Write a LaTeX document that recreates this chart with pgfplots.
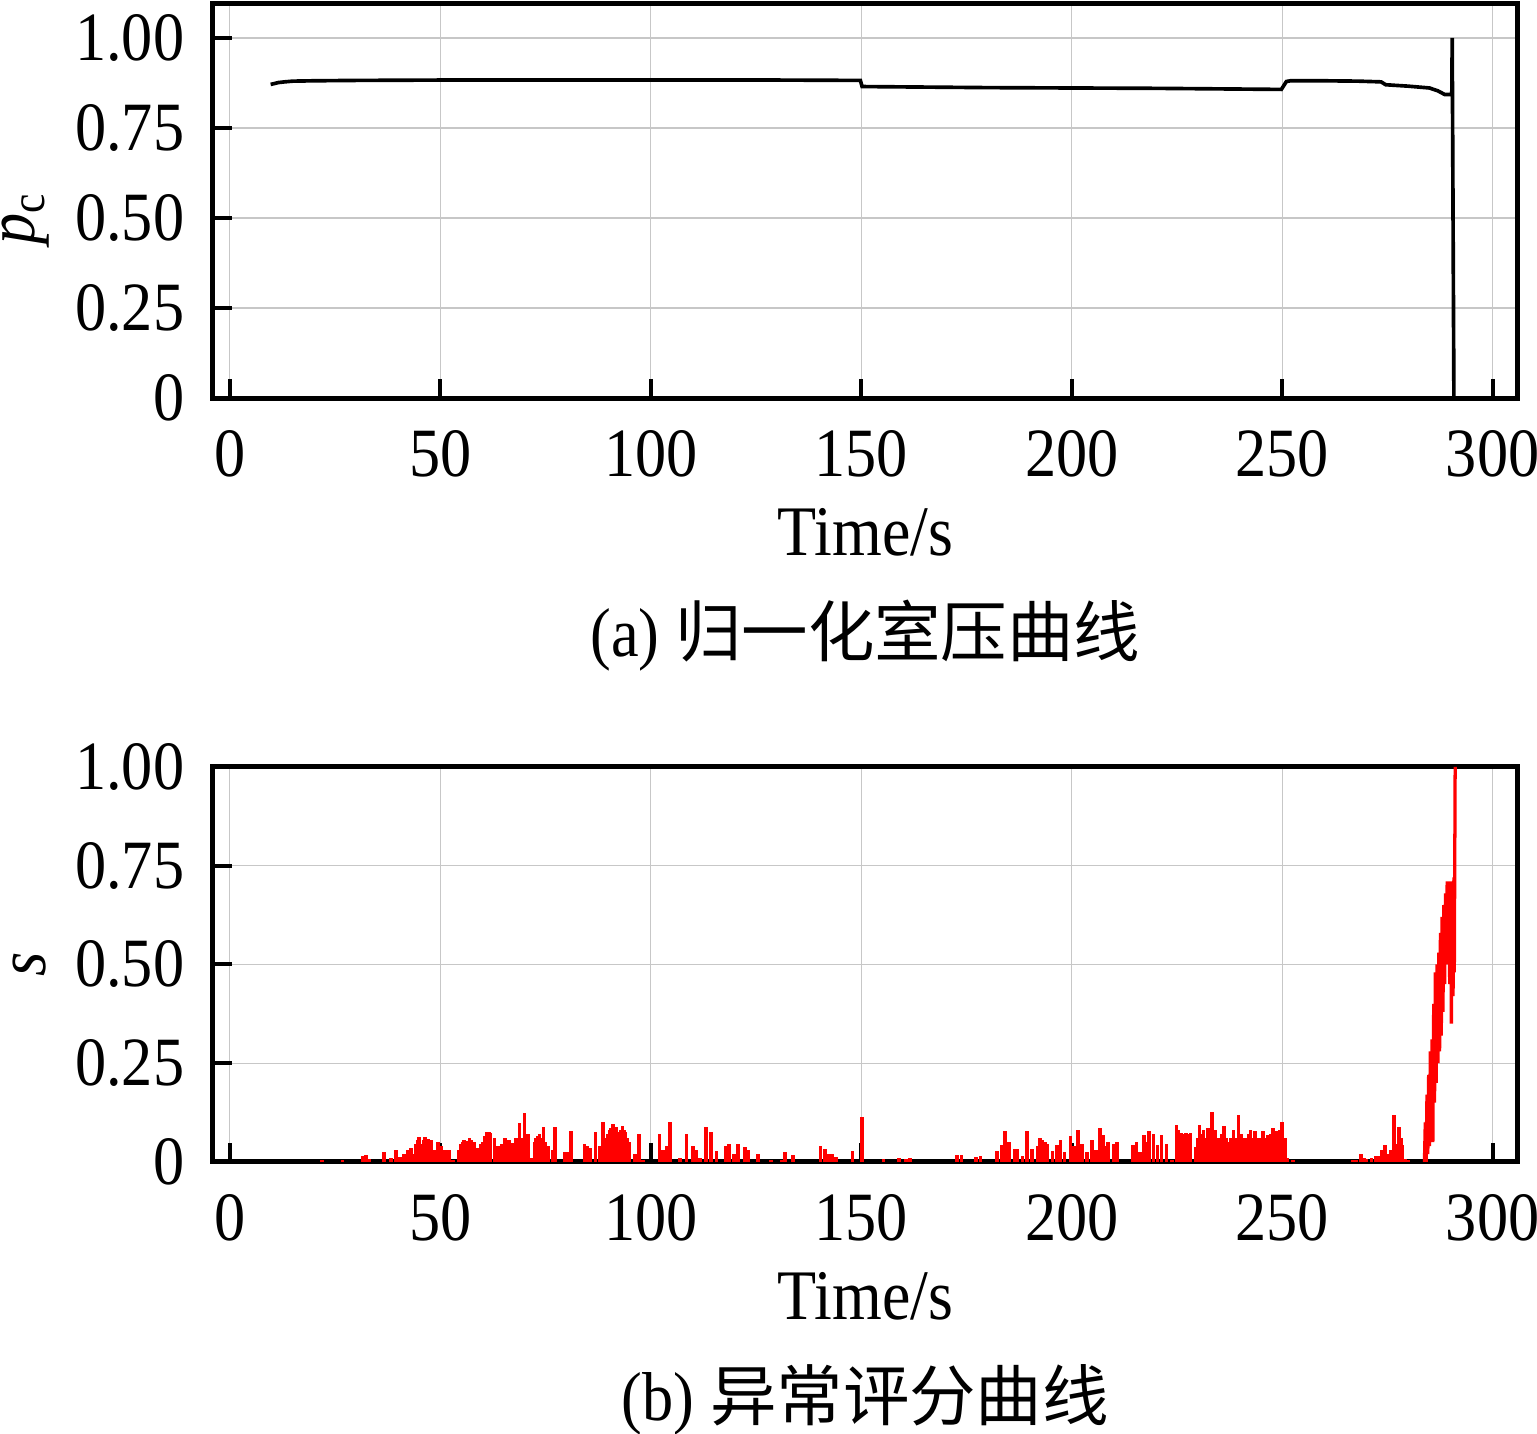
\documentclass[border=0pt]{standalone}
\usepackage{fontspec}
\setmainfont{Liberation Serif}[FakeStretch=0.9]
\newfontfamily\cjk{Noto Sans CJK SC}
\usepackage{pgfplots}
\pgfplotsset{compat=1.18}
\pgfplotsset{myax/.style={
  scale only axis, width=339.6pt, height=102.8pt,
  xmin=-4, xmax=306,
  xtick={0,50,100,150,200,250,300}, xticklabels={0,50,100,150,200,250,300},
  ytick={0,0.25,0.5,0.75,1}, yticklabels={0,0.25,0.50,0.75,1.00},
  xtick pos=bottom, ytick pos=left, tick align=inside,
  major tick length=5pt,
  tick style={black, line width=1.05pt},
  axis line style={line width=1.3pt},
  grid=major,
  major grid style={line width=0.3pt, color=black!22},
  tick label style={font=\fontsize{18}{20}\selectfont},
  xticklabel style={yshift=-2.3pt},
  yticklabel style={xshift=-1.3pt},
}}
\begin{document}
\fontsize{18}{21}\selectfont
\begin{tikzpicture}
\begin{axis}[myax, name=top, ymin=0, ymax=1.097]
\addplot[black, line width=0.95pt] coordinates {
(9.7,0.871) (10.5,0.873) (11.5,0.876) (13,0.878) (15,0.880) (20,0.881) (30,0.882) (50,0.883)
(80,0.883) (100,0.883) (130,0.883) (149.8,0.882) (150.2,0.865) (160,0.864) (180,0.862)
(200,0.861) (220,0.860) (240,0.858) (249.8,0.857) (250.3,0.866) (251,0.879) (252,0.881)
(260,0.881) (268,0.880) (273.5,0.878) (274.6,0.870) (280,0.866) (285,0.861) (287,0.853)
(288.6,0.843) (290.3,0.843) (290.4,1.0) (290.8,0)
};
\coordinate (ylt) at (axis cs:-4,0.5);
\end{axis}
\begin{axis}[myax, name=bot, at={(0pt,-198.8pt)}, ymin=0, ymax=1]
\addplot[red, ycomb, line width=0.95pt] coordinates {
(21.9,0.006) (26.8,0.006) (31.5,0.016) (32.3,0.018) (33.1,0.008) (36.7,0.024) (38.3,0.010)
(39.5,0.029) (40.5,0.012) (41.4,0.020) (42.2,0.030) (43.0,0.035) (43.6,0.020) (44.2,0.045)
(44.6,0.055) (45.0,0.062) (45.6,0.045) (46.0,0.055) (46.4,0.063) (46.8,0.050) (47.2,0.058)
(47.8,0.055) (48.6,0.030) (49.4,0.050) (50.3,0.040) (51.0,0.030) (51.6,0.030) (52.2,0.030)
(53.0,0.005) (54.3,0.030) (54.8,0.045) (55.3,0.050) (55.7,0.056) (56.2,0.052) (56.9,0.060)
(57.4,0.055) (58.1,0.050) (58.9,0.035) (59.6,0.045) (60.1,0.050) (60.6,0.065) (61.1,0.075)
(61.5,0.075) (61.9,0.072) (62.9,0.060) (63.7,0.040) (64.7,0.045) (65.4,0.060) (66.0,0.050)
(66.4,0.055) (67.2,0.048) (68.0,0.060) (68.8,0.098) (69.5,0.060) (70.0,0.123) (70.8,0.070)
(71.6,0.010) (72.4,0.050) (72.8,0.060) (73.2,0.065) (73.6,0.070) (74.1,0.060) (74.5,0.089)
(75.0,0.050) (75.6,0.040) (76.8,0.030) (77.3,0.088) (79.5,0.026) (80.2,0.026) (81.1,0.077)
(84.3,0.045) (84.9,0.040) (85.7,0.035) (86.9,0.075) (87.9,0.040) (88.7,0.100) (89.4,0.060)
(89.9,0.070) (90.3,0.080) (90.6,0.085) (91.0,0.096) (91.4,0.080) (91.8,0.088) (92.2,0.075)
(92.6,0.068) (93.0,0.080) (93.3,0.090) (93.7,0.080) (94.0,0.075) (94.4,0.060) (94.8,0.050)
(96.2,0.020) (97.2,0.070) (98.2,0.004) (102.1,0.070) (102.9,0.030) (103.7,0.040) (104.5,0.100)
(106.9,0.010) (108.5,0.070) (110.1,0.040) (110.9,0.030) (111.7,0.010) (113.1,0.089) (114.3,0.075)
(115.6,0.028) (117.8,0.040) (118.6,0.045) (119.8,0.020) (120.8,0.045) (122.4,0.038) (123.2,0.030)
(125.5,0.020) (128.6,0.005) (131.1,0.006) (131.9,0.024) (133.8,0.018) (140.3,0.040) (141.4,0.033)
(142.2,0.020) (143.0,0.020) (144.0,0.012) (147.9,0.028) (150.2,0.113) (155.3,0.007) (158.9,0.010)
(160.7,0.008) (161.6,0.010) (172.7,0.018) (173.8,0.018) (177.2,0.013) (178.3,0.015) (182.2,0.028)
(183.4,0.042) (184.1,0.077) (185.1,0.050) (186.5,0.033) (187.0,0.033) (188.3,0.015) (189.4,0.077)
(190.5,0.033) (192.0,0.040) (192.5,0.060) (193.1,0.055) (193.7,0.050) (194.1,0.046) (195.4,0.028)
(196.5,0.042) (197.3,0.055) (198.3,0.024) (199.7,0.066) (200.5,0.040) (201.5,0.082) (202.5,0.046)
(203.7,0.024) (204.8,0.055) (205.7,0.030) (206.7,0.086) (207.5,0.068) (208.1,0.040) (208.7,0.050)
(210.0,0.046) (210.8,0.050) (214.6,0.042) (215.4,0.050) (216.3,0.026) (217.1,0.068) (217.8,0.050)
(218.4,0.079) (219.4,0.070) (220.4,0.042) (221.3,0.068) (222.5,0.046) (223.8,0.006) (224.9,0.093)
(225.4,0.080) (225.9,0.074) (226.5,0.070) (227.1,0.074) (227.6,0.070) (228.2,0.072) (229.4,0.038)
(230.0,0.060) (230.4,0.094) (230.9,0.070) (231.3,0.082) (231.8,0.060) (232.4,0.086) (232.9,0.070)
(233.4,0.126) (233.8,0.080) (234.2,0.082) (234.7,0.060) (235.1,0.050) (235.7,0.070) (236.2,0.091)
(236.7,0.060) (237.1,0.050) (237.8,0.060) (238.4,0.082) (239.0,0.060) (239.6,0.120) (240.2,0.070)
(240.7,0.050) (241.2,0.060) (241.7,0.060) (242.1,0.070) (242.5,0.082) (243.0,0.060) (243.5,0.077)
(244.1,0.060) (244.6,0.055) (245.0,0.060) (245.5,0.077) (246.1,0.060) (246.7,0.068) (247.2,0.070)
(247.8,0.086) (248.3,0.070) (248.8,0.077) (249.4,0.080) (250.0,0.100) (250.6,0.060) (251.3,0.010)
(252.6,0.004) (266.8,0.004) (267.5,0.006) (268.8,0.020) (269.4,0.010) (270.0,0.008) (271.2,0.010)
(272.2,0.014) (272.8,0.016) (273.6,0.030) (274.4,0.043) (275.2,0.020) (275.8,0.030) (276.5,0.119)
(277.2,0.045) (277.8,0.089) (278.2,0.060) (278.6,0.043) (279.2,0.008) (280.0,0.004)
};
\addplot[red, line width=0.85pt] coordinates {
(283.5,0) (283.8,0) (284.0,0.10) (284.2,0.0) (284.4,0.17) (284.6,0.02) (284.8,0.22) (285.0,0.04)
(285.2,0.28) (285.4,0.08) (285.6,0.31) (285.8,0.05) (286.0,0.40) (286.2,0.15) (286.4,0.48)
(286.6,0.20) (286.8,0.50) (287.0,0.25) (287.2,0.53) (287.4,0.28) (287.6,0.58) (287.8,0.32)
(288.0,0.62) (288.2,0.38) (288.4,0.65) (288.6,0.45) (288.8,0.68) (289.0,0.50) (289.2,0.71)
(289.4,0.55) (289.6,0.70) (289.8,0.45) (290.0,0.71) (290.2,0.35) (290.4,0.70) (290.6,0.42)
(290.8,0.72) (290.9,0.48) (291.0,0.75) (291.1,1.0)
};
\coordinate (ylb) at (axis cs:-4,0.5);
\end{axis}
\node[rotate=90, anchor=base, inner sep=0pt] at ([xshift=-46.4pt]ylt) {\textit{p}\textsubscript{c}};
\node[rotate=90, anchor=base, inner sep=0pt] at ([xshift=-43.6pt]ylb) {\textit{s}};
\node[anchor=base, inner sep=0pt] at ([yshift=-40.9pt]top.south) {\fontsize{18.5}{21}\selectfont Time/s};
\node[anchor=base, inner sep=0pt] at ([yshift=-40.9pt]bot.south) {\fontsize{18.5}{21}\selectfont Time/s};
\node[anchor=base, inner sep=0pt] at ([yshift=-67.2pt]top.south) {(a) {\cjk\fontsize{17.3}{20}\selectfont 归一化室压曲线}};
\node[anchor=base, inner sep=0pt] at ([yshift=-67.2pt]bot.south) {(b) {\cjk\fontsize{17.3}{20}\selectfont 异常评分曲线}};
\pgfresetboundingbox
\path[use as bounding box] (-55.43pt,-269.36pt) rectangle (344.57pt,103.58pt);
\end{tikzpicture}
\end{document}
